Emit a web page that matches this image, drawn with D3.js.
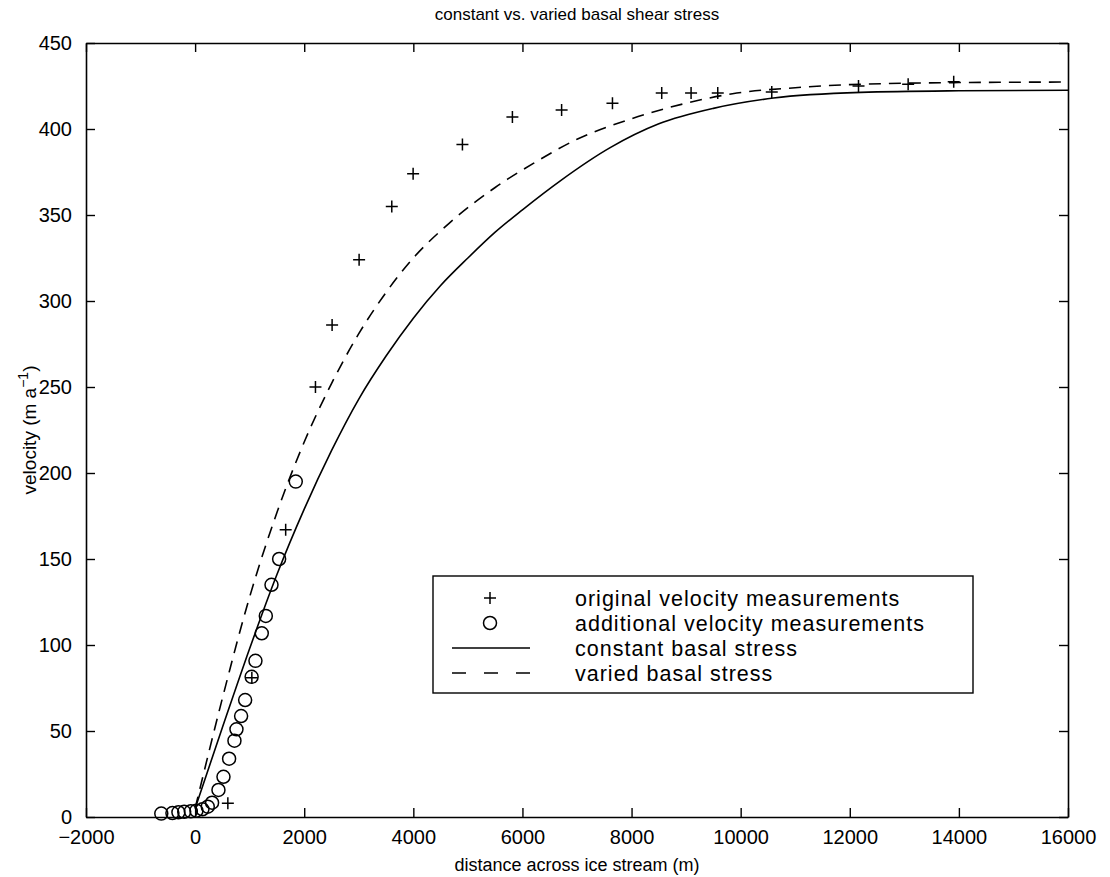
<!DOCTYPE html>
<html>
<head>
<meta charset="utf-8">
<script src="https://cdn.jsdelivr.net/npm/d3@7/dist/d3.min.js"></script>
<style>
  html, body { margin: 0; padding: 0; background: #fff; }
  svg { display: block; }
  text { font-family: "Liberation Sans", Arial, Helvetica, sans-serif; fill: #000; }
</style>
</head>
<body>
<svg id="chart" width="1110" height="877"></svg>
<script>
// Original velocity measurements (+)
const origX = [600, 1040, 1660, 2206, 2511, 3006, 3605, 3996, 4900, 5816, 6718, 7650, 8553, 9091, 9580, 10570, 12160, 13070, 13905];
const origY = [8, 81, 167, 250, 286, 324, 355, 374, 391, 407, 411, 415, 421, 421, 421, 421.5, 425, 426, 427.5];

// Additional velocity measurements (o)
const addX = [-620, -416, -306, -200, -79, 24, 134, 232, 311, 428, 520, 623, 721, 758, 843, 917, 1036, 1106, 1222, 1296, 1400, 1540, 1845];
const addY = [2, 2.3, 2.7, 3, 3.3, 3.7, 4.5, 6, 8.3, 15.7, 23.4, 33.9, 44.4, 51, 58.7, 68, 81.5, 90.8, 106.8, 116.9, 135, 150, 195];

// Model: constant basal stress
const constX = [0, 500, 1000, 1500, 2000, 2500, 3000, 3500, 4000, 4500, 5000, 5500, 6000, 6700, 7600, 8500, 9500, 10600, 12200, 14000, 16000];
const constY = [5, 52, 98, 141, 179, 213, 243, 268, 290, 309, 325, 340, 353, 370, 389, 403, 412, 418, 421.3, 422.2, 422.5];

// Model: varied basal stress
const variedX = [0, 500, 1000, 1500, 2000, 2500, 3000, 3500, 4000, 4650, 5500, 6200, 7000, 8000, 9000, 9850, 11000, 12000, 14000, 16000];
const variedY = [5, 69, 128, 177, 218, 252, 281, 305, 325, 345, 366, 380, 394, 406, 415, 420.5, 424, 425.8, 427, 427.3];

// Axis ticks
const xTicks = [-2000, 0, 2000, 4000, 6000, 8000, 10000, 12000, 14000, 16000];
const yTicks = [0, 50, 100, 150, 200, 250, 300, 350, 400, 450];

const legendLabels = ["original velocity measurements", "additional velocity measurements", "constant basal stress", "varied basal stress"];

const margin = { left: 86, right: 1068, top: 43, bottom: 817 };
const svg = d3.select("#chart");

const x = d3.scaleLinear().domain([-2000, 16000]).range([margin.left, margin.right]);
const y = d3.scaleLinear().domain([0, 450]).range([margin.bottom, margin.top]);

const fmt = d => d < 0 ? "\u2212" + Math.abs(d) : String(d);
const tickLen = 9;

// Box axes with inward ticks on all four sides
const axB = svg.append("g").attr("transform", `translate(0,${margin.bottom})`)
  .call(d3.axisBottom(x).tickValues(xTicks).tickSizeInner(-tickLen).tickSizeOuter(0).tickPadding(12.5).tickFormat(fmt));
const axT = svg.append("g").attr("transform", `translate(0,${margin.top})`)
  .call(d3.axisTop(x).tickValues(xTicks).tickSizeInner(-tickLen).tickSizeOuter(0).tickFormat(""));
const axL = svg.append("g").attr("transform", `translate(${margin.left},0)`)
  .call(d3.axisLeft(y).tickValues(yTicks).tickSizeInner(-tickLen).tickSizeOuter(0).tickPadding(tickLen + 5).tickFormat(d3.format("d")));
const axR = svg.append("g").attr("transform", `translate(${margin.right},0)`)
  .call(d3.axisRight(y).tickValues(yTicks).tickSizeInner(-tickLen).tickSizeOuter(0).tickFormat(""));

[axB, axT, axL, axR].forEach(g => {
  g.select(".domain").attr("stroke", "#000").attr("stroke-width", 1.6);
  g.selectAll(".tick line").attr("stroke", "#000").attr("stroke-width", 1.4);
  g.selectAll(".tick text").attr("font-size", 20).attr("font-family", "Liberation Sans, Arial, sans-serif").attr("fill", "#000");
});

// Model curves
const line = d3.line().x(d => x(d[0])).y(d => y(d[1])).curve(d3.curveMonotoneX);
svg.append("path").datum(d3.zip(constX, constY))
  .attr("d", line).attr("fill", "none").attr("stroke", "#000").attr("stroke-width", 1.6);
svg.append("path").datum(d3.zip(variedX, variedY))
  .attr("d", line).attr("fill", "none").attr("stroke", "#000").attr("stroke-width", 1.6)
  .attr("stroke-dasharray", "12,8");

// Additional measurements (circles)
svg.append("g").selectAll("circle").data(d3.zip(addX, addY)).join("circle")
  .attr("cx", d => x(d[0])).attr("cy", d => y(d[1])).attr("r", 6.5)
  .attr("fill", "none").attr("stroke", "#000").attr("stroke-width", 1.5);

// Original measurements (plus signs)
const plusSize = 6;
const plusPath = (cx, cy) => `M${cx - plusSize},${cy}H${cx + plusSize}M${cx},${cy - plusSize}V${cy + plusSize}`;
svg.append("g").selectAll("path").data(d3.zip(origX, origY)).join("path")
  .attr("d", d => plusPath(x(d[0]), y(d[1])))
  .attr("stroke", "#000").attr("stroke-width", 1.5).attr("fill", "none");

// Legend
const lg = svg.append("g").attr("transform", "translate(433,576)");
lg.append("rect").attr("x", 0).attr("y", 0).attr("width", 540).attr("height", 117)
  .attr("fill", "#fff").attr("stroke", "#000").attr("stroke-width", 1.4);
const rowY = [22, 47, 72, 97];
const symX = 57;
lg.append("path").attr("d", plusPath(symX, rowY[0])).attr("stroke", "#000").attr("stroke-width", 1.5);
lg.append("circle").attr("cx", symX).attr("cy", rowY[1]).attr("r", 6.5).attr("fill", "none").attr("stroke", "#000").attr("stroke-width", 1.5);
lg.append("line").attr("x1", 19).attr("x2", 97).attr("y1", rowY[2]).attr("y2", rowY[2]).attr("stroke", "#000").attr("stroke-width", 1.6);
lg.append("line").attr("x1", 19).attr("x2", 97).attr("y1", rowY[3]).attr("y2", rowY[3]).attr("stroke", "#000").attr("stroke-width", 1.6).attr("stroke-dasharray", "14,18");
lg.selectAll("text.lab").data(legendLabels).join("text").attr("class", "lab")
  .attr("x", 142).attr("y", (d, i) => rowY[i]).attr("dy", "0.35em")
  .attr("font-size", 21.5).attr("letter-spacing", 1).text(d => d);

// Titles
const cx = (margin.left + margin.right) / 2;
svg.append("text").attr("x", cx).attr("y", 20).attr("text-anchor", "middle")
  .attr("font-size", 17).text("constant vs. varied basal shear stress");
svg.append("text").attr("x", cx).attr("y", 871).attr("text-anchor", "middle")
  .attr("font-size", 18).text("distance across ice stream (m)");
const yl = svg.append("text").attr("transform", `translate(36,${(margin.top + margin.bottom) / 2}) rotate(-90)`)
  .attr("text-anchor", "middle").attr("font-size", 19);
yl.append("tspan").text("velocity (m a");
yl.append("tspan").attr("dy", -8).attr("font-size", 14).text("\u22121");
yl.append("tspan").attr("dy", 8).text(")");
</script>
</body>
</html>
